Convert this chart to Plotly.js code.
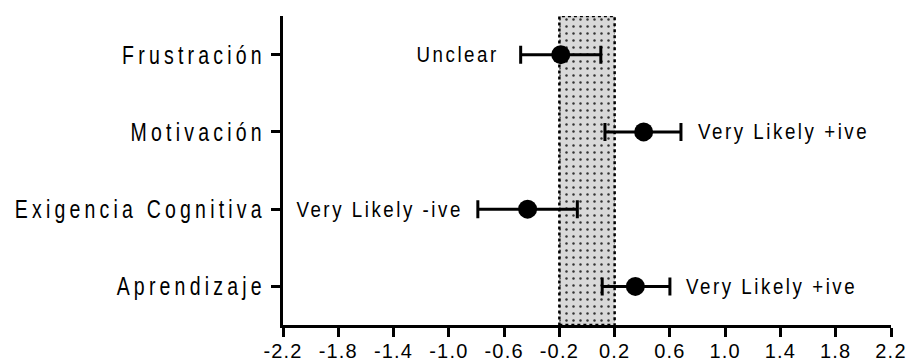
<!DOCTYPE html>
<html><head><meta charset="utf-8">
<script src="https://cdn.plot.ly/plotly-3.0.1.min.js"></script>
<style>
body{margin:0;background:#fff}
.y2tick text{letter-spacing:5.6px}
.annotation-text{letter-spacing:3px}
.xtick text{letter-spacing:1.2px}
</style></head><body><div id="chart" style="width:906px;height:363px"></div>
<script>
const categories = ["Frustración", "Motivación", "Exigencia Cognitiva", "Aprendizaje"];
const estimates = [-0.19, 0.41, -0.43, 0.35];
const lowerBounds = [-0.48, 0.13, -0.79, 0.11];
const upperBounds = [0.10, 0.68, -0.07, 0.60];
const verdicts = ["Unclear", "Very Likely +ive", "Very Likely -ive", "Very Likely +ive"];
const verdictSide = ["left", "right", "left", "right"];
const ropeBounds = [-0.2, 0.2];
const xRange = [-2.2, 2.2];
const xTickValues = [-2.2, -1.8, -1.4, -1.0, -0.6, -0.2, 0.2, 0.6, 1.0, 1.4, 1.8, 2.2];
const xTickLabels = ["-2.2", "-1.8", "-1.4", "-1.0", "-0.6", "-0.2", "0.2", "0.6", "1.0", "1.4", "1.8", "2.2"];

const sans = "Liberation Sans, Arial, sans-serif";
const labelShifts = [-20, 15, -13, 14];

const band = {
  x: [ropeBounds[0], ropeBounds[1], ropeBounds[1], ropeBounds[0], ropeBounds[0]],
  y: [0, 0, 1, 1, 0],
  xaxis: 'x', yaxis: 'y',
  mode: 'lines', fill: 'toself',
  fillcolor: '#d9d9d9',
  fillpattern: {shape: '.', fgcolor: '#333', bgcolor: '#d9d9d9', size: 7, solidity: 0.1},
  line: {color: '#000', width: 2.5, dash: 'dot'},
  hoverinfo: 'skip', showlegend: false
};

const points = {
  x: estimates, y: categories,
  xaxis: 'x', yaxis: 'y2',
  mode: 'markers', type: 'scatter',
  marker: {size: 19, color: '#000'},
  error_x: {
    type: 'data', symmetric: false,
    array: upperBounds.map((u, i) => u - estimates[i]),
    arrayminus: lowerBounds.map((l, i) => estimates[i] - l),
    color: '#000', thickness: 3, width: 9
  },
  showlegend: false
};

const annotations = categories.map((c, i) => ({
  x: verdictSide[i] === 'left' ? lowerBounds[i] : upperBounds[i],
  y: c, xref: 'x', yref: 'y2',
  text: verdicts[i], showarrow: false,
  xanchor: verdictSide[i] === 'left' ? 'right' : 'left',
  xshift: labelShifts[i],
  font: {family: sans, size: 22, color: '#000'}
}));

const layout = {
  width: 906, height: 363,
  margin: {l: 283, r: 15, t: 16, b: 38},
  paper_bgcolor: '#fff', plot_bgcolor: '#fff',
  showlegend: false,
  xaxis: {
    range: xRange, tickmode: 'array', tickvals: xTickValues, ticktext: xTickLabels,
    showgrid: false, zeroline: false,
    showline: true, linecolor: '#000', linewidth: 3,
    ticks: 'outside', ticklen: 9, tickwidth: 3, tickcolor: '#000',
    ticklabelstandoff: -3, ticklabeloverflow: 'allow',
    tickfont: {family: sans, size: 20, color: '#000'},
    anchor: 'y'
  },
  yaxis: {range: [0, 1], visible: false, fixedrange: true},
  yaxis2: {
    overlaying: 'y', side: 'left', type: 'category',
    categoryarray: categories, range: [categories.length - 0.5, -0.5],
    showgrid: false, zeroline: false,
    showline: true, linecolor: '#000', linewidth: 3,
    ticks: 'outside', ticklen: 9, tickwidth: 3, tickcolor: '#000',
    tickfont: {family: sans, size: 26, color: '#000'},
    anchor: 'x'
  },
  annotations: annotations
};

function squeeze(el, sx, rightSide) {
  const bb = el.getBBox();
  const a = rightSide ? bb.x + bb.width : bb.x;
  const t = el.getAttribute('transform') || '';
  el.setAttribute('transform', t + ' translate(' + a + ',0) scale(' + sx + ',1) translate(' + (-a) + ',0)');
}

Plotly.newPlot('chart', [band, points], layout, {displayModeBar: false, staticPlot: true}).then(() => {
  document.querySelectorAll('.y2tick text').forEach(el => squeeze(el, 0.75, true));
  document.querySelectorAll('.annotation-text').forEach((el, i) => squeeze(el, 0.85, verdictSide[i] === 'left'));
});
</script></body></html>
